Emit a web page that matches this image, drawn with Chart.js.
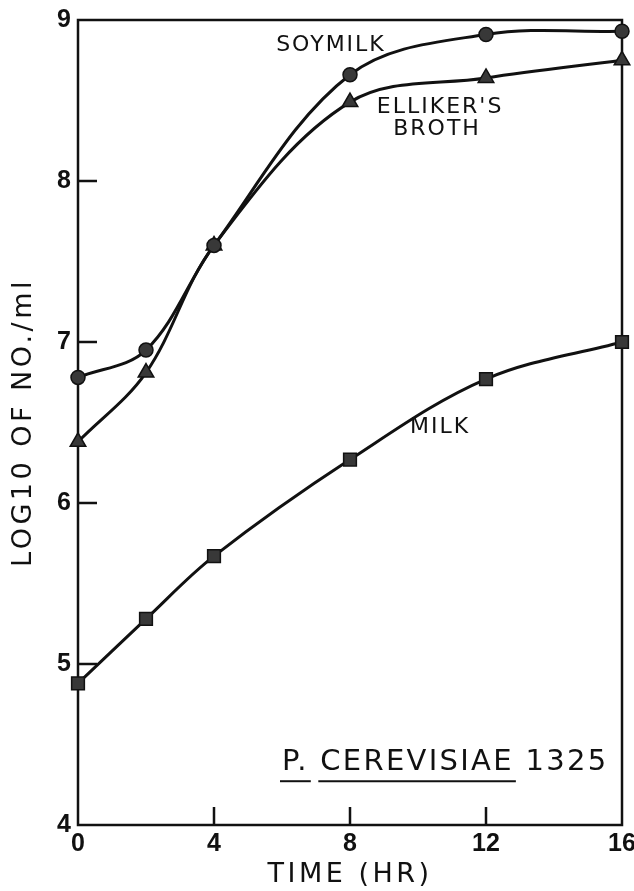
<!DOCTYPE html>
<html>
<head>
<meta charset="utf-8">
<script src="https://cdn.jsdelivr.net/npm/chart.js@4.4.1/dist/chart.umd.min.js"></script>
<style>
	html, body { margin: 0; padding: 0; background: #fff; }
	canvas { display: block; }
</style>
</head>
<body>
<canvas id="chart" width="634" height="891"></canvas>
<script>
// values (log10 counts per ml)
const hours = [0, 2, 4, 8, 12, 16];
const soymilk = [6.78, 6.95, 7.6, 8.66, 8.91, 8.93];
const elliker = [6.38, 6.81, 7.6, 8.49, 8.64, 8.75];
const milk = [4.88, 5.28, 5.67, 6.27, 6.77, 7.0];

const xTicks = [0, 4, 8, 12, 16];
const yTicks = [4, 5, 6, 7, 8, 9];
const innerXTicks = [4, 8, 12];
const innerYTicks = [5, 6, 7, 8];

// curve names, anchored in data units
const curveNames = ['SOYMILK', "ELLIKER'S", 'BROTH', 'MILK'];
const curveNameX = [7.44, 10.65, 10.56, 10.65];
const curveNameY = [8.84, 8.46, 8.32, 6.47];

const organismWords = ['P.', 'CEREVISIAE', '1325'];
const organismUnderlined = [true, true, false];
const organismX = 6.0;
const organismY = 4.39;

const FONT = "'DejaVu Sans', sans-serif";
const TICK_FONT = "'Liberation Sans', Arial, sans-serif";
const INK = '#111';

const toPoints = (vals) => hours.map((h, i) => ({x: h, y: vals[i]}));

const series = (label, vals, style, radius) => ({
	label: label,
	data: toPoints(vals),
	borderColor: INK,
	borderWidth: 3,
	backgroundColor: '#383838',
	pointStyle: style,
	pointRadius: radius,
	pointBorderColor: INK,
	pointBorderWidth: 1.5,
	pointBackgroundColor: '#383838',
	tension: 0.35,
	clip: false,
});

const framePlugin = {
	id: 'frame',
	beforeDraw(chart) {
		chart.ctx.letterSpacing = '3.5px';
	},
	beforeDatasetsDraw(chart) {
		const ctx = chart.ctx;
		const a = chart.chartArea;
		const xs = chart.scales.x;
		const ys = chart.scales.y;
		ctx.letterSpacing = '0px';
		ctx.save();
		ctx.strokeStyle = INK;
		ctx.lineWidth = 2.5;
		ctx.strokeRect(a.left, a.top, a.right - a.left, a.bottom - a.top);
		ctx.beginPath();
		innerYTicks.forEach(v => {
			const y = ys.getPixelForValue(v);
			ctx.moveTo(a.left, y);
			ctx.lineTo(a.left + 19, y);
		});
		innerXTicks.forEach(v => {
			const x = xs.getPixelForValue(v);
			ctx.moveTo(x, a.bottom);
			ctx.lineTo(x, a.bottom - 18);
		});
		ctx.stroke();
		ctx.restore();
	},
	afterDraw(chart) {
		const ctx = chart.ctx;
		const xs = chart.scales.x;
		const ys = chart.scales.y;
		ctx.save();
		ctx.fillStyle = INK;
		ctx.strokeStyle = INK;
		ctx.textBaseline = 'middle';

		ctx.font = '22px ' + FONT;
		ctx.letterSpacing = '2px';
		ctx.textAlign = 'center';
		curveNames.forEach((name, i) => {
			ctx.fillText(name, xs.getPixelForValue(curveNameX[i]), ys.getPixelForValue(curveNameY[i]));
		});

		// organism label, genus and species underlined
		ctx.font = '29px ' + FONT;
		ctx.letterSpacing = '2.3px';
		ctx.textAlign = 'left';
		let x = xs.getPixelForValue(organismX);
		const y = ys.getPixelForValue(organismY);
		const gap = ctx.measureText(' ').width;
		ctx.lineWidth = 2;
		organismWords.forEach((word, i) => {
			const w = ctx.measureText(word).width;
			ctx.fillText(word, x, y);
			if (organismUnderlined[i]) {
				ctx.beginPath();
				ctx.moveTo(x - 2, y + 19);
				ctx.lineTo(x + w + 2, y + 19);
				ctx.stroke();
			}
			x += w + gap;
		});
		ctx.restore();
		ctx.letterSpacing = '0px';
	}
};

const ctx = document.getElementById('chart').getContext('2d');

const chartConfig = {
	type: 'line',
	data: {
		datasets: [
			series('SOYMILK', soymilk, 'circle', 7),
			series("ELLIKER'S BROTH", elliker, 'triangle', 9),
			series('MILK', milk, 'rect', 9),
		],
	},
	options: {
		responsive: false,
		animation: false,
		layout: {
			padding: {top: 20, right: 12, bottom: 0, left: 0},
		},
		plugins: {
			legend: {display: false},
			tooltip: {enabled: false},
		},
		scales: {
			x: {
				type: 'linear',
				min: 0,
				max: 16,
				afterBuildTicks: (s) => { s.ticks = xTicks.map(v => ({value: v})); },
				afterFit: (s) => { s.height = 66; s.paddingLeft = 0; s.paddingRight = 0; },
				grid: {display: false, drawTicks: false},
				border: {display: false},
				ticks: {
					color: INK,
					font: {family: TICK_FONT, size: 25, weight: 'bold'},
					padding: 4,
					maxRotation: 0,
					autoSkip: false,
					z: 1,
				},
				title: {
					display: true,
					text: 'TIME (HR)',
					color: INK,
					font: {family: FONT, size: 27},
					padding: 0,
				},
			},
			y: {
				type: 'linear',
				min: 4,
				max: 9,
				afterBuildTicks: (s) => { s.ticks = yTicks.map(v => ({value: v})); },
				afterFit: (s) => { s.width = 78; s.paddingTop = 0; s.paddingBottom = 0; },
				grid: {display: false, drawTicks: false},
				border: {display: false},
				ticks: {
					color: INK,
					font: {family: TICK_FONT, size: 25, weight: 'bold'},
					padding: 7,
					autoSkip: false,
					z: 1,
				},
				title: {
					display: true,
					text: 'LOG10 OF NO./ml',
					color: INK,
					font: {family: FONT, size: 27},
					padding: {top: 8, bottom: 0},
				},
			},
		},
	},
	plugins: [framePlugin],
};

const chart = new Chart(ctx, chartConfig);
</script>
</body>
</html>
